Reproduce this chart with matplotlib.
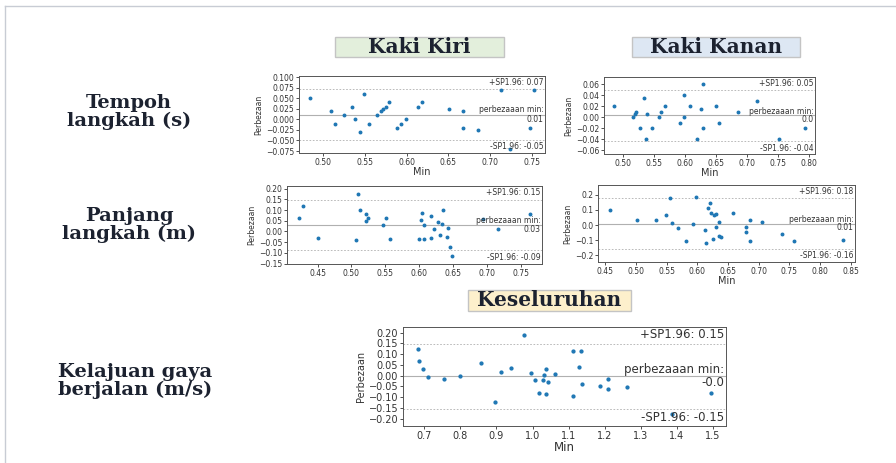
import matplotlib.pyplot as plt
from matplotlib.patches import Rectangle
from matplotlib.lines import Line2D
from matplotlib.ticker import MultipleLocator

# Tempoh langkah (s) - Kaki Kiri
tempoh_kiri_min = [0.485, 0.510, 0.515, 0.525, 0.535, 0.539, 0.544, 0.549, 0.555,
                   0.565, 0.569, 0.572, 0.575, 0.579, 0.589, 0.594, 0.599, 0.614,
                   0.619, 0.651, 0.668, 0.668, 0.685, 0.713, 0.723, 0.748, 0.752]
tempoh_kiri_beza = [0.05, 0.02, -0.01, 0.01, 0.03, 0.0, -0.03, 0.06, -0.01,
                    0.01, 0.02, 0.025, 0.03, 0.04, -0.02, -0.01, 0.0, 0.03,
                    0.04, 0.025, 0.02, -0.02, -0.025, 0.07, -0.07, -0.02, 0.07]
tempoh_kiri_garis = [0.0115, 0.071, -0.048]   # min, +1.96SP, -1.96SP

# Tempoh langkah (s) - Kaki Kanan
tempoh_kanan_min = [0.485, 0.5165, 0.519, 0.521, 0.527, 0.534, 0.537, 0.539, 0.547,
                    0.558, 0.562, 0.568, 0.593, 0.598, 0.598, 0.609, 0.619, 0.627,
                    0.629, 0.629, 0.650, 0.655, 0.686, 0.716, 0.753, 0.795]
tempoh_kanan_beza = [0.02, 0.0, 0.005, 0.01, -0.02, 0.035, -0.04, 0.005, -0.02,
                     0.0, 0.01, 0.02, -0.01, 0.04, 0.0, 0.02, -0.04, 0.015,
                     0.06, -0.02, 0.02, -0.01, 0.01, 0.03, -0.04, -0.02]
tempoh_kanan_garis = [0.003, 0.0487, -0.043]

# Panjang langkah (m) - Kaki Kiri
panjang_kiri_min = [0.422, 0.428, 0.450, 0.507, 0.510, 0.512, 0.521, 0.522, 0.524,
                    0.546, 0.551, 0.557, 0.600, 0.604, 0.603, 0.607, 0.607, 0.618,
                    0.617, 0.622, 0.630, 0.635, 0.628, 0.633, 0.641, 0.643, 0.646,
                    0.648, 0.694, 0.716, 0.764]
panjang_kiri_beza = [0.065, 0.118, -0.032, -0.038, 0.177, 0.10, 0.08, 0.051, 0.063,
                     0.028, 0.065, -0.037, -0.034, 0.086, 0.055, 0.031, -0.034, -0.029,
                     0.072, 0.012, -0.017, 0.098, 0.043, 0.037, -0.026, 0.018, -0.075,
                     -0.115, 0.058, 0.011, 0.08]
panjang_kiri_garis = [0.03, 0.149, -0.089]

# Panjang langkah (m) - Kaki Kanan
panjang_kanan_min = [0.457, 0.502, 0.532, 0.549, 0.555, 0.559, 0.568, 0.581, 0.593,
                     0.598, 0.612, 0.614, 0.617, 0.620, 0.622, 0.625, 0.627, 0.630,
                     0.631, 0.635, 0.636, 0.638, 0.658, 0.679, 0.680, 0.686, 0.686,
                     0.705, 0.738, 0.757, 0.838]
panjang_kanan_beza = [0.102, 0.032, 0.036, 0.066, 0.179, 0.015, -0.021, -0.106, 0.009,
                      0.183, -0.034, -0.119, 0.113, 0.143, 0.079, -0.094, 0.066, 0.070,
                      -0.011, 0.021, -0.072, -0.081, 0.081, -0.045, -0.011, 0.034, -0.106,
                      0.017, -0.060, -0.106, -0.10]
panjang_kanan_garis = [0.01, 0.177, -0.157]

# Kelajuan gaya berjalan (m/s) - Keseluruhan
laju_min = [0.682, 0.686, 0.698, 0.710, 0.755, 0.798, 0.857, 0.897, 0.912, 0.940,
            0.976, 0.995, 1.006, 1.019, 1.031, 1.030, 1.038, 1.038, 1.043, 1.063,
            1.111, 1.135, 1.130, 1.111, 1.138, 1.186, 1.210, 1.208, 1.261, 1.385,
            1.495]
laju_beza = [0.124, 0.070, 0.031, -0.007, -0.016, -0.001, 0.058, -0.122, 0.015, 0.034,
             0.187, 0.010, -0.022, -0.079, 0.003, -0.021, 0.031, -0.084, -0.028, 0.007,
             0.116, 0.116, 0.039, -0.094, -0.039, -0.049, -0.016, -0.061, -0.052, -0.18,
             -0.081]
laju_garis = [-0.004, 0.147, -0.153]

W, H = 896, 463


def kotak(l, r, t, b):
    return [l / W, 1 - b / H, (r - l) / W, (b - t) / H]


def bland_altman(fig, pos, x, d, garis, xstep, ystep, fs, afs, xlabel=True):
    ax = fig.add_axes(kotak(*pos))
    md, atas, bawah = garis
    sd = (atas - bawah) / 3.92
    ax.scatter(x, d, s=fs * 0.6, color='#1f77b4', zorder=3)
    ax.axhline(md, color='#b0b0b0', lw=0.8)
    ax.axhline(atas, color='#b0b0b0', lw=0.6, ls=(0, (2, 2)))
    ax.axhline(bawah, color='#b0b0b0', lw=0.6, ls=(0, (2, 2)))
    ax.set_ylim(md - 3 * sd, md + 3 * sd)
    ax.xaxis.set_major_locator(MultipleLocator(xstep))
    ax.yaxis.set_major_locator(MultipleLocator(ystep))
    ax.tick_params(labelsize=fs, length=2, width=0.6, pad=1.5, colors='#333333')
    for s in ax.spines.values():
        s.set_color('#555555')
        s.set_linewidth(0.7)
    tr = ('axes fraction', 'data')
    ax.annotate('+SP1.96: ' + str(round(atas, 2)), xy=(0.995, atas), xycoords=tr,
                xytext=(0, 2), textcoords='offset points',
                ha='right', va='bottom', fontsize=afs, color='#333333')
    ax.annotate('perbezaaan min:\n' + str(round(md, 2)), xy=(0.995, md), xycoords=tr,
                ha='right', va='center', fontsize=afs, color='#333333', linespacing=1.0)
    ax.annotate('-SP1.96: ' + str(round(bawah, 2)), xy=(0.995, bawah), xycoords=tr,
                xytext=(0, -2), textcoords='offset points',
                ha='right', va='top', fontsize=afs, color='#333333')
    ax.set_ylabel('Perbezaan', fontsize=fs, labelpad=2, color='#333333')
    if xlabel:
        ax.set_xlabel('Min', fontsize=fs + 1.5, labelpad=0, color='#333333')
    return ax


fig = plt.figure(figsize=(8.96, 4.63), dpi=100)

# garis sempadan
fig.add_artist(Line2D([5 / W, 1], [1 - 6 / H, 1 - 6 / H], color='#c8ccd4', lw=1))
fig.add_artist(Line2D([5 / W, 5 / W], [0, 1 - 6 / H], color='#c8ccd4', lw=1))

tajuk_font = dict(family='DejaVu Serif', weight='bold', color='#1c2230')


def tajuk(teks, l, r, t, b, warna):
    fig.add_artist(Rectangle((l / W, 1 - b / H), (r - l) / W, (b - t) / H,
                             transform=fig.transFigure, facecolor=warna,
                             edgecolor='#c4c4c4', lw=1))
    fig.text((l + r) / 2 / W, 1 - (t + b) / 2 / H, teks, ha='center', va='center',
             fontsize=14.5, **tajuk_font)


tajuk('Kaki Kiri', 335, 504, 37, 57, '#e3efdc')
tajuk('Kaki Kanan', 632, 800, 37, 57, '#dde7f3')
tajuk('Keseluruhan', 468, 631, 290, 311, '#fdf0cc')

fig.text(129 / W, 1 - 112 / H, 'Tempoh\nlangkah (s)', ha='center', va='center',
         fontsize=14, linespacing=0.95, **tajuk_font)
fig.text(129 / W, 1 - 225 / H, 'Panjang\nlangkah (m)', ha='center', va='center',
         fontsize=14, linespacing=0.95, **tajuk_font)
fig.text(135 / W, 1 - 381 / H, 'Kelajuan gaya\nberjalan (m/s)', ha='center', va='center',
         fontsize=14, linespacing=0.95, **tajuk_font)

bland_altman(fig, (299, 545, 76, 153), tempoh_kiri_min, tempoh_kiri_beza,
             tempoh_kiri_garis, 0.05, 0.025, 5.5, 5.5)
bland_altman(fig, (604, 815, 77, 154), tempoh_kanan_min, tempoh_kanan_beza,
             tempoh_kanan_garis, 0.05, 0.02, 5.5, 5.5)
bland_altman(fig, (287, 542, 186, 264), panjang_kiri_min, panjang_kiri_beza,
             panjang_kiri_garis, 0.05, 0.05, 5.5, 5.5, xlabel=False)
bland_altman(fig, (598, 855, 185, 262), panjang_kanan_min, panjang_kanan_beza,
             panjang_kanan_garis, 0.05, 0.1, 5.5, 5.5)
bland_altman(fig, (403, 726, 327, 426), laju_min, laju_beza,
             laju_garis, 0.1, 0.05, 7, 8.5)

fig.savefig('out.png', dpi=100, facecolor='w')
